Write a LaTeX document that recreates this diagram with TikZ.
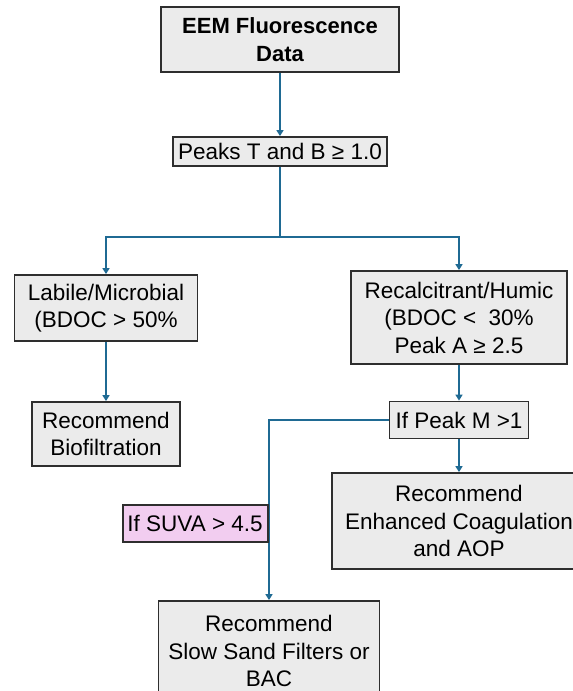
\documentclass[tikz,border=0pt]{standalone}
\usepackage{fontspec}
\setmainfont{Liberation Sans}
\usetikzlibrary{arrows.meta}
\definecolor{boxfill}{HTML}{EBEBEB}
\definecolor{boxline}{HTML}{2E2E2E}
\definecolor{arrowblue}{HTML}{1F6A93}
\definecolor{pinkfill}{HTML}{F2CDF0}
\begin{document}
\begin{tikzpicture}[x=1pt,y=-1pt,
  box/.style={draw=boxline, fill=boxfill, line width=1.8pt, align=center,
    font=\fontsize{22.5}{27.5}\selectfont, inner sep=0pt},
  conn/.style={draw=arrowblue, line width=1.8pt, -{Triangle[width=7pt,length=6pt]}},
  plain/.style={draw=arrowblue, line width=1.8pt}]
\useasboundingbox (0,0) rectangle (573,691);
\clip (0,0) rectangle (573,691);
\fill[white] (0,0) rectangle (573,691);

\node[box, minimum width=238, minimum height=65, font=\fontsize{22}{27.5}\selectfont\bfseries] (top) at (280,39.5) {EEM Fluorescence\\Data};
\node[box, minimum width=214, minimum height=29] (peaks) at (280,151.5) {Peaks T and B ≥ 1.0};
\coordinate (j) at (280,237);
\node[box, minimum width=183, minimum height=66] (labile) at (106,308) {Labile/Microbial\\(BDOC > 50\%};
\node[box, minimum width=148, minimum height=64] (bio) at (106,434) {Recommend\\Biofiltration};
\node[box, minimum width=216, minimum height=93] (recalc) at (459,317.5) {Recalcitrant/Humic\\(BDOC <\ \ 30\%\\Peak A ≥ 2.5};
\node[box, minimum width=139, minimum height=37] (ifm) at (459,420) {If Peak M >1};
\node[box, minimum width=254, minimum height=96] (enh) at (459,521) {Recommend\\Enhanced Coagulation\\and AOP};
\node[box, minimum width=221, minimum height=100] (sand) at (269,651) {Recommend\\Slow Sand Filters or\\BAC};

\draw[conn] (top) -- (peaks);
\draw[plain] (peaks.south) -- (j);
\draw[conn] (j) -| (labile.north);
\draw[conn] (j) -| (recalc.north);
\draw[conn] (labile) -- (bio);
\draw[conn] (recalc) -- (ifm);
\draw[conn] (ifm) -- (enh);
\draw[conn] (ifm.west) -| (sand.north);

\node[box, fill=pinkfill, minimum width=145, minimum height=37, anchor=east] (suva) at (268.5,523.5) {If SUVA > 4.5};
\end{tikzpicture}
\end{document}
